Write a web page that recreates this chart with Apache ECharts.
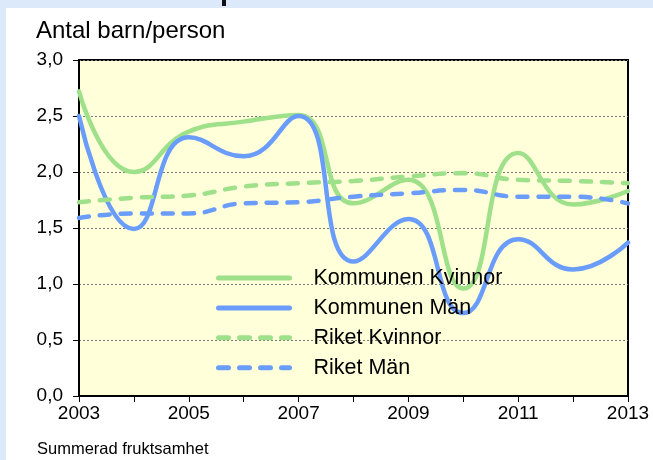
<!DOCTYPE html>
<html lang="sv">
<head>
  <meta charset="UTF-8">
  <title>Summerad fruktsamhet</title>
  <style>
    html, body {margin: 0; padding: 0; background: #dce9fa;}
    #chart {width: 653px; height: 460px;}
  </style>
</head>
<body>
  <div id="chart"></div>
  <script src="https://cdn.jsdelivr.net/npm/echarts@6/dist/echarts.min.js"></script>
  <script>
    var years = ['2003', '2004', '2005', '2006', '2007', '2008', '2009', '2010', '2011', '2012', '2013'];
    var kommunenKvinnor = [2.72, 2.00, 2.36, 2.45, 2.51, 1.72, 1.93, 0.96, 2.17, 1.71, 1.83];
    var kommunenMan = [2.50, 1.49, 2.31, 2.14, 2.50, 1.20, 1.58, 0.74, 1.40, 1.13, 1.37];
    var riketKvinnor = [1.73, 1.77, 1.79, 1.87, 1.90, 1.92, 1.96, 1.99, 1.93, 1.92, 1.90];
    var riketMan = [1.59, 1.63, 1.63, 1.72, 1.73, 1.78, 1.81, 1.84, 1.78, 1.78, 1.72];

    var green = '#9fe08b';
    var blue = '#6a9cfb';
    var font = 'Liberation Sans, Arial, sans-serif';

    var chart = echarts.init(document.getElementById('chart'));

    function lineSeries(name, data, color, dashed) {
      return {
        name: name,
        type: 'line',
        data: data,
        smooth: 0.5,
        showSymbol: false,
        symbol: 'none',
        lineStyle: {
          color: color,
          width: 4.5,
          type: dashed ? [10, 11] : 'solid',
          cap: 'round'
        },
        itemStyle: {color: color}
      };
    }

    var option = {
      backgroundColor: '#dce9fa',
      animation: false,
      graphic: [
        // white panel behind the chart
        {type: 'rect', left: 6, top: 8, z: -10, shape: {width: 660, height: 460}, style: {fill: '#ffffff'}},
        // bit of the cut-off title
        {type: 'rect', left: 222, top: 0, shape: {width: 4, height: 6}, style: {fill: '#111111'}},
        {type: 'text', left: 36, top: 19, style: {text: 'Antal barn/person', font: '24px ' + font, fill: '#000'}},
        {type: 'text', left: 37, top: 441, style: {text: 'Summerad fruktsamhet', font: '16.5px ' + font, fill: '#000'}}
      ],
      grid: {
        left: 79, right: 25, top: 60, bottom: 64,
        show: true,
        backgroundColor: '#ffffd9',
        borderColor: '#000',
        borderWidth: 2,
        outerBoundsMode: 'none'
      },
      legend: {
        orient: 'vertical',
        left: 211,
        top: 262,
        itemWidth: 71,
        itemHeight: 14,
        itemGap: 7.9,
        itemStyle: {opacity: 0},
        lineStyle: {width: 5, cap: 'round'},
        textStyle: {fontFamily: font, fontSize: 21.5, lineHeight: 20, color: '#000', padding: [0, 0, 0, 19]},
        data: ['Kommunen Kvinnor', 'Kommunen Män', 'Riket Kvinnor', 'Riket Män']
      },
      xAxis: {
        type: 'category',
        data: years,
        boundaryGap: false,
        axisLine: {lineStyle: {color: '#000', width: 2}},
        axisTick: {show: true, interval: 0, length: 6, lineStyle: {color: '#000', width: 1}},
        axisLabel: {interval: 1, margin: 8, color: '#000', fontFamily: font, fontSize: 19},
        splitLine: {show: false}
      },
      yAxis: {
        type: 'value',
        min: 0,
        max: 3,
        interval: 0.5,
        axisLine: {show: true, lineStyle: {color: '#000', width: 2}},
        axisTick: {show: true, length: 6, lineStyle: {color: '#000', width: 1}},
        axisLabel: {
          margin: 16, color: '#000', fontFamily: font, fontSize: 19,
          formatter: function (v) { return v.toFixed(1).replace('.', ','); }
        },
        splitLine: {lineStyle: {color: '#777', width: 1, type: [2, 2]}}
      },
      series: [
        lineSeries('Kommunen Kvinnor', kommunenKvinnor, green, false),
        lineSeries('Kommunen Män', kommunenMan, blue, false),
        lineSeries('Riket Kvinnor', riketKvinnor, green, true),
        lineSeries('Riket Män', riketMan, blue, true)
      ]
    };

    chart.setOption(option);
  </script>
</body>
</html>
